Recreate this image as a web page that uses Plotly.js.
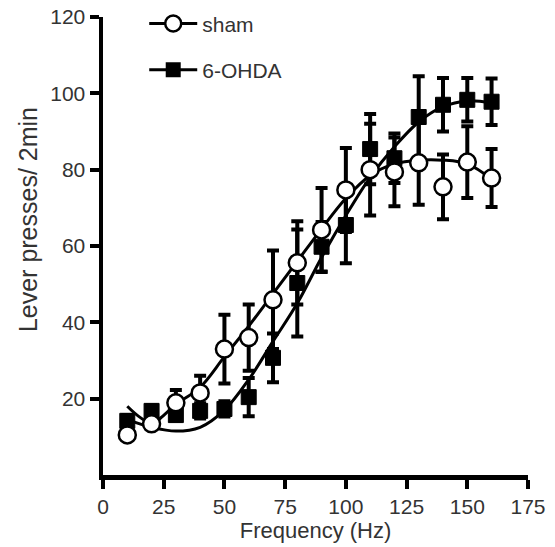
<!DOCTYPE html>
<html>
<head>
<meta charset="utf-8">
<script src="https://cdn.plot.ly/plotly-3.0.1.min.js"></script>
<style>html,body{margin:0;padding:0;background:#fff;}#chart{width:555px;height:547px;}</style>
</head>
<body>
<div id="chart"></div>
<script>
const freq = [10, 20, 30, 40, 50, 60, 70, 80, 90, 100, 110, 120, 130, 140, 150, 160];

const shamMean = [10.5, 13.4, 18.9, 21.5, 33.0, 36.0, 45.9, 55.6, 64.2, 74.7, 80.0, 79.4, 81.8, 75.5, 82.0, 77.8];
const shamErr  = [1.0, 1.0, 3.4, 4.5, 9.0, 8.7, 12.9, 10.9, 11.0, 11.0, 12.0, 9.0, 11.0, 8.5, 9.4, 7.6];

const ohdaMean = [14.2, 16.8, 15.7, 16.8, 17.3, 20.4, 30.7, 50.3, 59.8, 65.5, 85.4, 83.0, 93.8, 97.0, 98.3, 97.8];
const ohdaErr  = [1.5, 1.5, 1.5, 2.0, 2.0, 5.0, 6.4, 14.0, 6.5, 10.0, 9.2, 6.5, 10.7, 7.0, 5.7, 6.1];

const shamFit = [18.0, 13.8, 18.5, 23.0, 31.0, 39.0, 47.5, 56.0, 64.5, 72.5, 78.5, 81.5, 82.5, 82.5, 81.5, 77.5];
const ohdaFit = [14.5, 12.5, 11.5, 12.5, 17.0, 25.0, 35.0, 45.0, 57.0, 68.0, 78.0, 86.0, 92.5, 96.5, 98.0, 97.5];

const seriesNames = ['sham', '6-OHDA'];
const xTicks = [0, 25, 50, 75, 100, 125, 150, 175];
const yTicks = [20, 40, 60, 80, 100, 120];
const xTitle = 'Frequency (Hz)';
const yTitle = 'Lever presses/ 2min';

const FONT = 'Arial, "Liberation Sans", Helvetica, sans-serif';
const TXT = '#333333';

const errStyle = (arr) => ({type: 'data', array: arr, visible: true, color: '#000', thickness: 4, width: 6});

const traces = [
  {x: freq, y: ohdaFit, mode: 'lines', line: {color: '#000', width: 3, shape: 'spline', smoothing: 1}, showlegend: false, hoverinfo: 'skip'},
  {x: freq, y: shamFit, mode: 'lines', line: {color: '#000', width: 3, shape: 'spline', smoothing: 1}, showlegend: false, hoverinfo: 'skip'},
  {x: freq, y: ohdaMean, mode: 'markers', name: seriesNames[1], error_y: errStyle(ohdaErr),
   marker: {symbol: 'square', size: 15, color: '#000', line: {color: '#000', width: 1}}, showlegend: false},
  {x: freq, y: shamMean, mode: 'markers', name: seriesNames[0], error_y: errStyle(shamErr),
   marker: {symbol: 'circle', size: 17, color: '#fff', line: {color: '#000', width: 2.5}}, showlegend: false},
  {x: [null], y: [null], mode: 'lines+markers', name: seriesNames[0], legend: 'legend',
   line: {color: '#000', width: 3}, marker: {symbol: 'circle', size: 17, color: '#fff', line: {color: '#000', width: 2.5}}},
  {x: [null], y: [null], mode: 'lines+markers', name: seriesNames[1], legend: 'legend2',
   line: {color: '#000', width: 3}, marker: {symbol: 'square', size: 15, color: '#000'}}
];

const axisCommon = {
  showgrid: false, zeroline: false, showline: true, linecolor: '#000', linewidth: 4.5,
  ticks: 'outside', ticklen: 9, tickwidth: 4, tickcolor: '#000', automargin: false,
  tickfont: {family: FONT, size: 21, color: TXT}
};

const legendCommon = {
  xanchor: 'left', yanchor: 'middle',
  bgcolor: 'rgba(0,0,0,0)', borderwidth: 0,
  font: {family: FONT, size: 21, color: TXT}, itemwidth: 48
};

const layout = {
  width: 555, height: 547,
  margin: {l: 103, r: 27, t: 17, b: 72, autoexpand: false},
  paper_bgcolor: '#fff', plot_bgcolor: '#fff',
  xaxis: Object.assign({}, axisCommon, {
    range: [0, 175], tickvals: xTicks, ticktext: xTicks.map(String),
    title: {text: xTitle, font: {family: FONT, size: 22, color: TXT}, standoff: 7}
  }),
  yaxis: Object.assign({}, axisCommon, {
    range: [0, 120], tickvals: yTicks, ticktext: yTicks.map(String)
  }),
  annotations: [{
    text: yTitle, xref: 'paper', yref: 'paper', x: -0.176, y: 0.557,
    xanchor: 'center', yanchor: 'middle', textangle: -90, showarrow: false,
    font: {family: FONT, size: 25, color: TXT}
  }],
  showlegend: true,
  legend: Object.assign({}, legendCommon, {x: 0.097, y: 0.985}),
  legend2: Object.assign({}, legendCommon, {x: 0.097, y: 0.884})
};

Plotly.newPlot('chart', traces, layout, {displayModeBar: false, staticPlot: true});
</script>
</body>
</html>
